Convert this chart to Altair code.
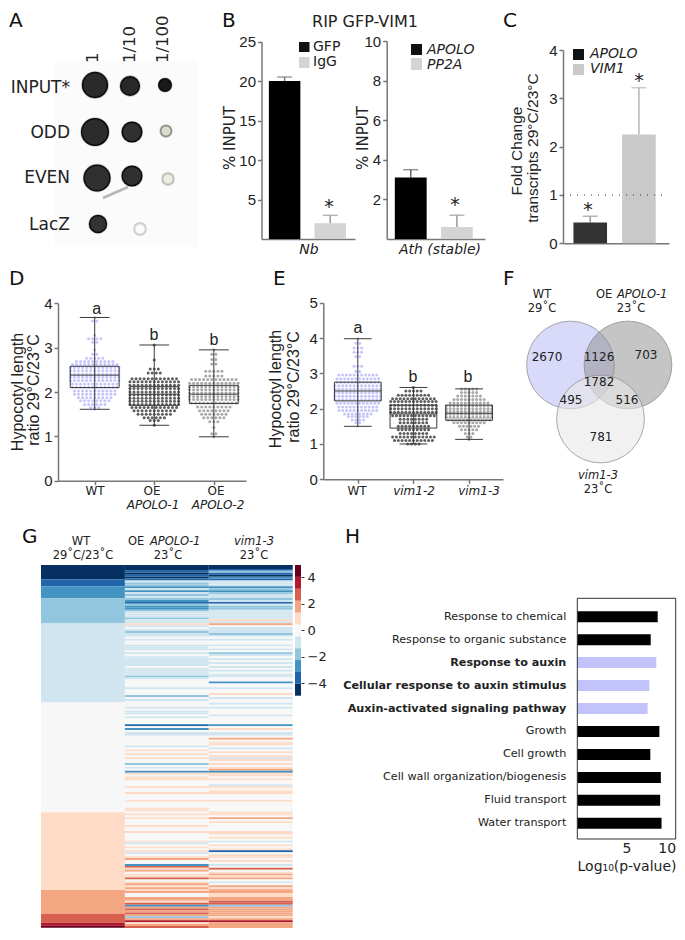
import altair as alt
import pandas as pd

W, H = 669, 920
DEJA = "DejaVu Sans"
LIB = "Liberation Sans"
INK = "#222222"
AX = "#777777"
HEAT_BOTTOM = 928
FX = -7  # panel F sits a little left so that it stays on the page

# ---- A: dot blot
blot_x = [95, 130, 165, 95, 132, 166, 97, 132, 168, 98, 140]
blot_y = [85, 86, 85, 132, 132, 131, 178, 176, 179, 224, 229]
blot_d = [28, 21, 14, 30, 22, 12, 29, 22, 12, 19, 12]
blot_fill = ["#2a2a2a", "#282828", "#1a1a1a", "#2c2c2c", "#303030", "#dcdcd0",
             "#303030", "#303030", "#eeeee6", "#333333", "#fbfbfb"]
blot_edge = ["#0c0c0c", "#0c0c0c", "#0c0c0c", "#0c0c0c", "#0c0c0c", "#8d8d80",
             "#0c0c0c", "#0c0c0c", "#c4c4b8", "#0c0c0c", "#d8d8d8"]
blot_rows = ["INPUT*", "ODD", "EVEN", "LacZ"]
blot_cols = ["1", "1/10", "1/100"]

# ---- B, C: bars
b1_cat = ["GFP", "IgG"]
b1_val = [20.0, 2.0]
b1_err = [20.5, 3.0]
b2_cat = ["APOLO", "PP2A"]
b2_val = [3.1, 0.6]
b2_err = [3.5, 1.2]
c_cat = ["APOLO", "VIM1"]
c_val = [0.43, 2.25]
c_err = [0.56, 3.22]

# ---- D: swarm rows (value of the row, number of dots in it)
d_wt_y = [3.68, 3.6, 3.28, 3.2, 3.12, 2.95, 2.85, 2.76, 2.69, 2.62, 2.55, 2.48, 2.4, 2.33, 2.26, 2.18, 2.1, 2.02, 1.95, 1.87, 1.8, 1.72, 1.65, 1.61]
d_wt_n = [1, 2, 1, 4, 2, 1, 2, 5, 10, 12, 13, 13, 13, 13, 13, 12, 12, 11, 11, 9, 8, 6, 3, 1]
d_oe1_y = [3.06, 2.72, 2.52, 2.43, 2.3, 2.23, 2.15, 2.08, 2.0, 1.93, 1.86, 1.79, 1.72, 1.65, 1.58, 1.5, 1.42, 1.36, 1.25]
d_oe1_n = [1, 1, 3, 4, 12, 13, 13, 13, 13, 13, 13, 13, 13, 12, 11, 9, 6, 3, 1]
d_oe2_y = [2.95, 2.85, 2.73, 2.63, 2.47, 2.36, 2.28, 2.2, 2.12, 2.05, 1.98, 1.9, 1.83, 1.75, 1.66, 1.58, 1.5, 1.42, 1.33, 1.2, 1.06, 0.99]
d_oe2_n = [1, 2, 2, 2, 5, 5, 12, 13, 13, 13, 13, 13, 13, 12, 9, 8, 7, 6, 3, 1, 2, 1]
d_q1 = [2.1, 1.7, 1.74]
d_med = [2.38, 1.95, 1.95]
d_q3 = [2.58, 2.12, 2.15]
d_min = [1.61, 1.25, 0.99]
d_max = [3.68, 3.06, 2.95]

# ---- E
e_wt_y = [3.98, 3.85, 3.72, 3.6, 3.48, 3.2, 3.05, 2.95, 2.85, 2.75, 2.65, 2.55, 2.45, 2.35, 2.25, 2.15, 2.05, 1.95, 1.85, 1.78, 1.68, 1.6, 1.5]
e_wt_n = [1, 2, 3, 3, 2, 3, 2, 11, 12, 12, 13, 13, 13, 13, 13, 12, 11, 11, 8, 6, 4, 2, 1]
e_v2_y = [2.6, 2.5, 2.38, 2.28, 2.2, 2.1, 2.0, 1.9, 1.8, 1.7, 1.6, 1.5, 1.4, 1.3, 1.2, 1.1, 1.0]
e_v2_n = [1, 5, 9, 12, 13, 13, 13, 13, 12, 8, 8, 9, 9, 8, 12, 11, 4]
e_v3_y = [2.56, 2.46, 2.36, 2.26, 2.16, 2.08, 2.0, 1.92, 1.84, 1.76, 1.68, 1.6, 1.5, 1.4, 1.3, 1.2, 1.13]
e_v3_n = [5, 5, 7, 9, 11, 13, 13, 13, 13, 13, 12, 9, 6, 5, 3, 2, 1]
e_q1 = [2.22, 1.45, 1.67]
e_med = [2.5, 1.85, 1.87]
e_q3 = [2.75, 2.1, 2.1]
e_min = [1.5, 1.0, 1.13]
e_max = [3.98, 2.6, 2.56]

# ---- F: Venn
venn_counts = ["2670", "1126", "703", "1782", "495", "516", "781"]

# ---- G: heatmap. a..e = -5..-1, . = 0, f..j = +1..+5
heat_levels = [-5, -4, -3, -2, -1, 0, 1, 2, 3, 4, 5]
heat_colors = ["#053061", "#2166ac", "#4393c3", "#92c5de", "#d1e5f0", "#f7f7f7",
               "#fddbc7", "#f4a582", "#d6604d", "#b2182b", "#67001f"]
col1_rows = [7.5, 3.6, 6.0, 13.0, 40.7, 56.6, 40.0, 12.2, 4.7, 1.6, 1.0]
col2_code = ("aaabababed" "dcecededcb" "dccdeeedee" "fe.edee.e." ".eee.e.eee"
             "ee.eeeede." "...e...d.e" "...e.ee.e." "..b.c.ee.." "...e.f.f.f"
             "..d.e.cf.f" "f...f..f.." ".f...ff.f." "f...f..f.." "..fe.f.fe."
             "fg..chfg.f" "fh.fgfgfg." ".ggfhcghgh" "gdgifgh")
col3_code = ("aabdbacbee" "ecdcdeedeb" "eddeeeeefe" "g.eeede.e." ".e.e.de.e."
             "e.e.e.ee.." "c..e..f.e." ".e.e...e.." "..c.f.ee.g" ".ff.e.f.fe"
             "f.f.fgcff." "f..ef.ff.." ".f.....ff." "g.f....ff." "f.e.f.fb.f"
             "f.f.e.h.fg" "fg.e.gfggf" "fgghhdgggg" "gfgiggg")
code_map = dict(zip("abcde.fghij", heat_levels))

# ---- H
h_terms = ["Response to chemical", "Response to organic substance", "Response to auxin",
           "Cellular response to auxin stimulus", "Auxin-activated signaling pathway",
           "Growth", "Cell growth", "Cell wall organization/biogenesis",
           "Fluid transport", "Water transport"]
h_vals = [8.17, 7.46, 8.03, 7.32, 7.15, 8.34, 7.42, 8.49, 8.42, 8.56]
h_bold = h_terms[2:5]

layers = []
one = pd.DataFrame({"k": [0]})


def qx(f, dom, rng, axis=None):
    return alt.X(f"{f}:Q", scale=alt.Scale(domain=dom, range=[r - 8 for r in rng], nice=False, zero=False),
                 axis=axis, title=None)


def qy(f, dom, rng, axis=None):
    return alt.Y(f"{f}:Q", scale=alt.Scale(domain=dom, range=[r - 8 for r in rng], nice=False, zero=False),
                 axis=axis, title=None)


def yaxis(x_px, vals, size=15, font=LIB, color=AX, width=1.5):
    return alt.Axis(orient="left", offset=-(x_px - 8), values=vals, grid=False, format="d",
                    labelFont=font, labelFontSize=size, labelColor=INK, labelPadding=2,
                    domainColor=color, tickColor=color, domainWidth=width, tickWidth=width,
                    tickSize=4, labelOverlap=False, labelFlush=False)


def xaxis(y_px, vals=None, ticks=True, labels=False, color=AX, width=1.5):
    kw = {}
    if vals is not None:
        kw["values"] = vals
    return alt.Axis(orient="bottom", offset=(y_px - 8) - H, grid=False, ticks=ticks, labels=labels,
                    domainColor=color, tickColor=color, domainWidth=width, tickWidth=width,
                    tickSize=4, format="d", **kw)


def label(t, x, y, size=12, font=DEJA, italic=False, bold=False, align="center", angle=0, color=INK):
    kw = {}
    if italic:
        kw["fontStyle"] = "italic"
    if bold:
        kw["fontWeight"] = "bold"
    if angle:
        kw["angle"] = angle
    layers.append(alt.Chart(pd.DataFrame({"t": [t]})).mark_text(
        font=font, fontSize=size, align=align, baseline="middle", color=color, **kw
    ).encode(x=alt.value(x - 8), y=alt.value(y - 8), text="t:N"))


def square(x0, y0, x1, y1, fill):
    layers.append(alt.Chart(one).mark_rect(fill=fill).encode(
        x=alt.value(x0 - 8), x2=alt.value(x1 - 8), y=alt.value(y0 - 8), y2=alt.value(y1 - 8)))


# panel letters
for t, x, y in [("A", 9, 21), ("B", 222, 21), ("C", 503, 21), ("D", 9, 279), ("E", 273, 279),
                ("F", 503, 279), ("G", 22, 537), ("H", 345, 537)]:
    label(t, x, y, size=20, align="left", color="#111111")

# ---------------- A
CX = dict(dom=[0, 1000], rng=[0, 1000])
CY = dict(dom=[0, 1000], rng=[0, 1000])
square(55, 60, 198, 247, "#fbfbfb")
blot = pd.DataFrame({"x": blot_x, "y": blot_y, "d": blot_d, "fill": blot_fill, "edge": blot_edge})
blot["halo"] = (blot["d"] + 3) ** 2 * 0.785
blot["body"] = blot["d"] ** 2 * 0.785
layers.append(alt.Chart(blot).mark_circle(color="#777777", opacity=0.5).encode(
    x=qx("x", **CX), y=qy("y", **CY), size=alt.Size("halo:Q", scale=None, legend=None)))
layers.append(alt.Chart(blot).mark_point(filled=True, opacity=1, strokeWidth=1.5).encode(
    x=qx("x", **CX), y=qy("y", **CY), size=alt.Size("body:Q", scale=None, legend=None),
    fill=alt.Fill("fill:N", scale=None), stroke=alt.Stroke("edge:N", scale=None)))
smear = pd.DataFrame({"x": [103], "x2": [128], "y": [198], "y2": [187]})
layers.append(alt.Chart(smear).mark_rule(color="#9a9a9a", strokeWidth=2.5, opacity=0.7).encode(
    x=qx("x", **CX), x2="x2:Q", y=qy("y", **CY), y2="y2:Q"))
for t, y in zip(blot_rows, [88, 133, 178, 225]):
    label(t, 70, y, size=17, align="right")
for t, x in zip(blot_cols, [93, 130, 163]):
    label(t, x, 63, size=16.5, align="left", angle=270)


# ---------------- bars
def bars(cats, vals, errs, colors, errcolors, xr, yr, ydom, yvals, xax_y, xax_x, pO, al):
    df = pd.DataFrame({"c": cats, "v": vals, "e": errs, "col": colors, "ec": errcolors})
    sx = alt.Scale(domain=cats, range=[r - 8 for r in xr], paddingInner=0.31, paddingOuter=pO, align=al)
    X = lambda axis=None: alt.X("c:N", scale=sx, axis=axis, title=None)
    layers.append(alt.Chart(df).mark_rule(strokeWidth=1.5).encode(
        x=X(), y=qy("v", ydom, yr), y2="e:Q", color=alt.Color("ec:N", scale=None)))
    layers.append(alt.Chart(df).mark_tick(orient="horizontal", size=15, thickness=1.5).encode(
        x=X(), y=qy("e", ydom, yr), color=alt.Color("ec:N", scale=None)))
    layers.append(alt.Chart(df).mark_bar().encode(
        x=X(xaxis(xax_y, ticks=False)),
        y=qy("v", ydom, yr, yaxis(xax_x, yvals)),
        color=alt.Color("col:N", scale=None)))


bars(b1_cat, b1_val, b1_err, ["#000000", "#d4d4d4"], ["#777777", "#999999"],
     [261.5, 355], [239, 41.5], [0, 25], [5, 10, 15, 20, 25], 239, 261.5, 0.18, 0.45)
bars(b2_cat, b2_val, b2_err, ["#000000", "#d4d4d4"], ["#666666", "#999999"],
     [386.7, 485], [239, 41], [0, 10], [2, 4, 6, 8, 10], 239, 386.7, 0.22, 0.4)
bars(c_cat, c_val, c_err, ["#333333", "#c9c9c9"], ["#999999", "#b5b5b5"],
     [563, 669], [243.3, 50], [0, 4], [0, 1, 2, 3, 4], 243.3, 563, 0.244, 0.44)
# reference line in C
layers.append(alt.Chart(pd.DataFrame({"y": [1]})).mark_rule(color="#333333", strokeDash=[1, 6], strokeWidth=1.2).encode(
    x=alt.value(563 - 8), x2=alt.value(665 - 8), y=qy("y", [0, 4], [243.3, 50])))

label("RIP GFP-VIM1", 365, 22, size=16)
label("% INPUT", 230, 138, size=15, angle=270)
label("% INPUT", 363, 138, size=15, angle=270)
square(299, 42, 309.5, 52, "#111111")
square(299, 57, 309.5, 68, "#d4d4d4")
label("GFP", 313, 47, size=14, align="left")
label("IgG", 313, 62, size=14, align="left")
square(411, 44, 422, 55, "#111111")
square(411, 58, 422, 70, "#d4d4d4")
label("APOLO", 427, 50, size=14, italic=True, align="left")
label("PP2A", 427, 65, size=14, italic=True, align="left")
label("Nb", 309, 250, size=14, italic=True)
label("Ath (stable)", 440, 250, size=14, italic=True)
for x, y in [(329, 207), (455, 205), (588, 210), (639, 81)]:
    label("*", x, y, size=19)
label("Fold Change", 517, 151, size=15.5, font=LIB, angle=270)
label("transcripts 29°C/23°C", 533, 148, size=15.5, font=LIB, angle=270)
square(573, 49, 584, 60, "#111111")
square(573, 64, 584, 75, "#c9c9c9")
label("APOLO", 590, 54, size=14, italic=True, align="left")
label("VIM1", 590, 69, size=14, italic=True, align="left")


# ---------------- box + swarm
def swarm(ys, ns, pos, spacing, group):
    rows = []
    for y, n in zip(ys, ns):
        for i in range(n):
            rows.append({"x": pos + (i - (n - 1) / 2) * spacing, "y": y, "g": group})
    return rows


def boxswarm(groups, q1, med, q3, lo, hi, xdom, xr, ydom, yr, yvals, axis_x, axis_y, half):
    pts = []
    for i, (ys, ns, col) in enumerate(groups):
        pts += swarm(ys, ns, i + 1, 0.068, col)
    pdf = pd.DataFrame(pts)
    b = pd.DataFrame({"p": [1, 2, 3], "q1": q1, "med": med, "q3": q3, "lo": lo, "hi": hi})
    b["x0"] = b["p"] - half
    b["x1"] = b["p"] + half
    b["c0"] = b["p"] - 0.25
    b["c1"] = b["p"] + 0.25
    layers.append(alt.Chart(pdf).mark_circle(size=9, opacity=1).encode(
        x=qx("x", xdom, xr), y=qy("y", ydom, yr), color=alt.Color("g:N", scale=None)))
    stroke = dict(color="#3a3a3a", strokeWidth=1)
    layers.append(alt.Chart(b).mark_rule(**stroke).encode(
        x=qx("p", xdom, xr, xaxis(axis_y, [1, 2, 3])), y=qy("lo", ydom, yr, yaxis(axis_x, yvals)), y2="hi:Q"))
    layers.append(alt.Chart(b).mark_rect(fill="transparent", stroke="#3a3a3a", strokeWidth=1).encode(
        x=qx("x0", xdom, xr), x2="x1:Q", y=qy("q1", ydom, yr), y2="q3:Q"))
    for f, a, z in [("med", "x0", "x1"), ("lo", "c0", "c1"), ("hi", "c0", "c1")]:
        layers.append(alt.Chart(b).mark_rule(**stroke).encode(
            x=qx(a, xdom, xr), x2=f"{z}:Q", y=qy(f, ydom, yr)))


WT_C, DK_C, MD_C = "#c6c6fb", "#5e5e5e", "#a8a8a8"
boxswarm([(d_wt_y, d_wt_n, WT_C), (d_oe1_y, d_oe1_n, DK_C), (d_oe2_y, d_oe2_n, MD_C)],
         d_q1, d_med, d_q3, d_min, d_max, [0.384, 3.54], [58, 246], [0, 4], [480.7, 303.3],
         [0, 1, 2, 3, 4], 58, 480.7, 0.41)
boxswarm([(e_wt_y, e_wt_n, WT_C), (e_v2_y, e_v2_n, DK_C), (e_v3_y, e_v3_n, MD_C)],
         e_q1, e_med, e_q3, e_min, e_max, [0.38, 3.61], [323.3, 503], [0, 5], [479.3, 302.7],
         [0, 1, 2, 3, 4, 5], 323.3, 479.3, 0.42)

label("Hypocotyl length", 18, 392, size=16, font=LIB, angle=270)
label("ratio 29°C/23°C", 34, 390, size=16, font=LIB, angle=270)
label("Hypocotyl length", 276, 389, size=16, font=LIB, angle=270)
label("ratio 29°C/23°C", 294, 387, size=16, font=LIB, angle=270)
for t, x, y in [("a", 96.7, 309), ("b", 154, 335), ("b", 214, 340), ("a", 358, 328), ("b", 413, 377), ("b", 468, 377)]:
    label(t, x, y, size=16, font=LIB)
label("WT", 95, 491, size=12)
label("OE", 152, 491, size=12)
label("APOLO-1", 153, 505, size=12, italic=True)
label("OE", 216, 491, size=12)
label("APOLO-2", 218, 505, size=12, italic=True)
label("WT", 357, 491, size=12)
label("vim1-2", 414, 491, size=12, italic=True)
label("vim1-3", 479, 491, size=12, italic=True)

# ---------------- F
venn = [(577.5, 365, "#b3b3f5", 0.5), (635, 365, "#8c8c8c", 0.5), (607.5, 419, "#e8e8e8", 0.6)]
for x, y, c, op in venn:
    df = pd.DataFrame({"x": [x + FX], "y": [y]})
    layers.append(alt.Chart(df).mark_circle(size=7698, color=c, fillOpacity=op, opacity=1).encode(
        x=qx("x", **CX), y=qy("y", **CY)))
    layers.append(alt.Chart(df).mark_point(size=7698, filled=False, color="#888888", strokeWidth=1).encode(
        x=qx("x", **CX), y=qy("y", **CY)))
for t, x, y in zip(venn_counts, [554, 606, 653, 606, 578, 634, 608], [357, 357, 355, 382, 400, 400, 437]):
    label(t, x + FX, y, size=12)
label("WT", 549 + FX, 295, size=11.5)
label("29˚C", 549 + FX, 309, size=11.5)
label("OE", 603 + FX, 295, size=11.5, align="left")
label("APOLO-1", 624 + FX, 295, size=11.5, italic=True, align="left")
label("23˚C", 638 + FX, 309, size=11.5)
label("vim1-3", 605 + FX, 476, size=11.5, italic=True)
label("23˚C", 605 + FX, 490, size=11.5)

# ---------------- G
rows = []
top = 0.0
for lvl, n in zip(heat_levels, col1_rows):
    rows.append({"c0": 0, "c1": 1, "r0": top, "r1": top + n, "lv": lvl})
    top += n
for c, code in enumerate([col2_code, col3_code], start=1):
    for i, ch in enumerate(code):
        rows.append({"c0": c, "c1": c + 1, "r0": i, "r1": i + 1, "lv": code_map[ch]})
heat = pd.DataFrame(rows)
cscale = alt.Scale(domain=heat_levels, range=heat_colors)
layers.append(alt.Chart(heat).mark_rect().encode(
    x=qx("c0", [0, 3], [41, 292.7]), x2="c1:Q",
    y=qy("r0", [0, 187], [565, HEAT_BOTTOM]), y2="r1:Q",
    color=alt.Color("lv:O", scale=cscale, legend=None)))
# colour bar
bw = 2 * 4.93 / 11
cb = pd.DataFrame({"lv": heat_levels})
cb["a"] = [-4.93 + i * bw for i in range(11)]
cb["b"] = cb["a"] + bw
layers.append(alt.Chart(cb).mark_rect().encode(
    x=alt.value(295 - 8), x2=alt.value(301 - 8),
    y=alt.Y("a:Q", scale=alt.Scale(domain=[-4.93, 4.93], range=[695.7 - 8, 565 - 8], nice=False, zero=False),
            title=None,
            axis=alt.Axis(orient="right", offset=(301 - 8) - W, values=[-4, -2, 0, 2, 4], grid=False, domain=False,
                          tickColor="#333333", tickSize=3, labelFont=DEJA, labelFontSize=13, labelColor=INK,
                          labelPadding=3, format="d")),
    y2="b:Q",
    color=alt.Color("lv:O", scale=cscale, legend=None)))
label("WT", 81, 542, size=11.5)
label("29˚C/23˚C", 83, 556, size=11.5)
label("OE", 128, 542, size=11.5, align="left")
label("APOLO-1", 150, 542, size=11.5, italic=True, align="left")
label("23˚C", 168, 556, size=11.5)
label("vim1-3", 254, 542, size=11.5, italic=True)
label("23˚C", 254, 556, size=11.5)

# ---------------- H
hdf = pd.DataFrame({"term": h_terms, "v": h_vals})
hdf["col"] = ["#c3c3fb" if t in h_bold else "#000000" for t in h_terms]
bold_js = "[" + ",".join(f"'{t}'" for t in h_bold) + "]"
layers.append(alt.Chart(hdf).mark_bar().encode(
    x=qx("v", [0, 10], [577.3, 675.7],
         alt.Axis(orient="bottom", offset=(839 - 8) - H, values=[5, 10], grid=False, domain=False, ticks=False,
                  labelFont=DEJA, labelFontSize=14, labelColor=INK, labelPadding=2, format="d", labelFlush=True)),
    y=alt.Y("term:N", sort=h_terms, title=None,
            scale=alt.Scale(domain=h_terms, range=[605.2 - 8, 834.8 - 8], paddingInner=0.52, paddingOuter=0.26),
            axis=alt.Axis(orient="left", offset=-(577.3 - 8), grid=False, domain=False, ticks=False, labelPadding=11.5,
                          labelFont=DEJA, labelFontSize=11.2, labelColor=INK, labelLimit=320,
                          labelFontWeight=alt.ExprRef(f"indexof({bold_js}, datum.value) >= 0 ? 'bold' : 'normal'"))),
    color=alt.Color("col:N", scale=None)))
layers.append(alt.Chart(one).mark_rect(fill="transparent", stroke="#333333", strokeWidth=1).encode(
    x=alt.value(577.3 - 8), x2=alt.value(675.7 - 8), y=alt.value(598.3 - 8), y2=alt.value(839 - 8)))
label("Log₁₀(p-value)", 627, 867, size=14)

chart = alt.layer(*layers).resolve_scale(x="independent", y="independent").resolve_axis(
    x="independent", y="independent"
).properties(
    width=W, height=H, padding=0, autosize=alt.AutoSizeParams(type="none", contains="padding")
).configure_view(stroke=None).configure_axis(grid=False)

chart.save("out.html", embed_options={"renderer": "svg", "actions": False})
